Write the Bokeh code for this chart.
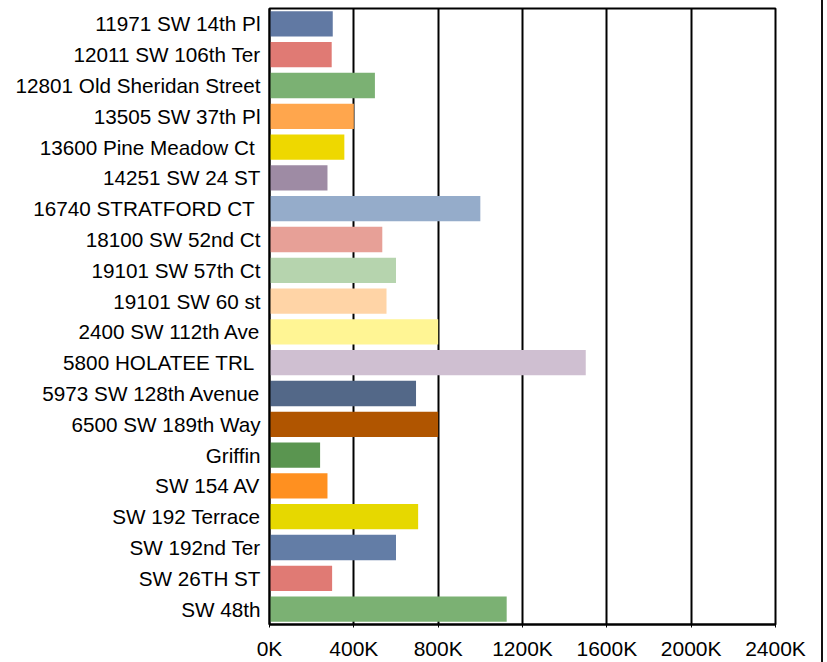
from bokeh.plotting import figure
from bokeh.models import FactorRange, FixedTicker, CustomJSTickFormatter, ColumnDataSource
from bokeh.embed import file_html
from bokeh.resources import INLINE

addresses = [
    "11971 SW 14th Pl", "12011 SW 106th Ter", "12801 Old Sheridan Street",
    "13505 SW 37th Pl", "13600 Pine Meadow  Ct", "14251 SW 24 ST",
    "16740 STRATFORD CT ", "18100 SW 52nd Ct", "19101 SW 57th Ct",
    "19101 SW 60 st", "2400 SW 112th Ave", "5800 HOLATEE TRL ",
    "5973 SW 128th Avenue", "6500 SW 189th Way", "Griffin", "SW 154 AV",
    "SW 192 Terrace", "SW 192nd Ter", "SW 26TH ST", "SW 48th",
]
values = [300000, 295000, 500000, 400000, 355000, 275000, 1000000, 535000, 600000, 555000,
          800000, 1500000, 695000, 800000, 240000, 275000, 705000, 600000, 297000, 1125000]
colors = ["#6179A3", "#E07A74", "#7BB173", "#FFA64D", "#EED800", "#9E8BA4", "#95ACCA",
          "#E7A097", "#B6D4AE", "#FFD4A6", "#FFF594", "#CFBFD1", "#536888", "#B05500",
          "#5A9550", "#FF9020", "#E6D800", "#637DA6", "#E07A74", "#7BB173"]
x_ticks = [0, 400000, 800000, 1200000, 1600000, 2000000, 2400000]

src = ColumnDataSource(dict(addr=addresses, val=values, col=colors))

p = figure(width=823, height=662, output_backend="svg", toolbar_location=None,
           y_range=FactorRange(*reversed(addresses)), x_range=(0, 2400000),
           min_border_left=269, min_border_right=48, min_border_top=8, min_border_bottom=36,
           styles={"border-right": "2px solid #111"})

p.hbar(y="addr", right="val", left=0, height=0.82, fill_color="col", line_color=None, source=src)

font = "Liberation Sans"
p.xaxis.ticker = FixedTicker(ticks=x_ticks)
p.xaxis.formatter = CustomJSTickFormatter(code="return (tick/1000).toFixed(0) + 'K';")
p.xaxis.major_label_text_font = font
p.xaxis.major_label_text_font_size = "21px"
p.xaxis.major_label_text_color = "#000000"
p.xaxis.major_tick_in = 0
p.xaxis.major_tick_out = 3
p.xaxis.major_tick_line_color = "#000000"
p.xaxis.minor_tick_line_color = None
p.xaxis.axis_line_color = "#000000"
p.xaxis.axis_line_width = 2
p.xaxis.major_label_standoff = 9

p.yaxis.major_label_text_font = font
p.yaxis.major_label_text_font_size = "20.7px"
p.yaxis.major_label_text_color = "#000000"
p.yaxis.major_tick_line_color = None
p.yaxis.axis_line_color = "#000000"
p.yaxis.axis_line_width = 2
p.yaxis.major_label_standoff = 3

p.xgrid.ticker = FixedTicker(ticks=x_ticks)
p.xgrid.grid_line_color = "#000000"
p.xgrid.grid_line_width = 2
p.ygrid.grid_line_color = None

p.outline_line_color = "#000000"
p.outline_line_width = 2
p.background_fill_color = "#FFFFFF"
p.border_fill_color = "#FFFFFF"

open("out.html", "w").write(file_html(p, INLINE))
